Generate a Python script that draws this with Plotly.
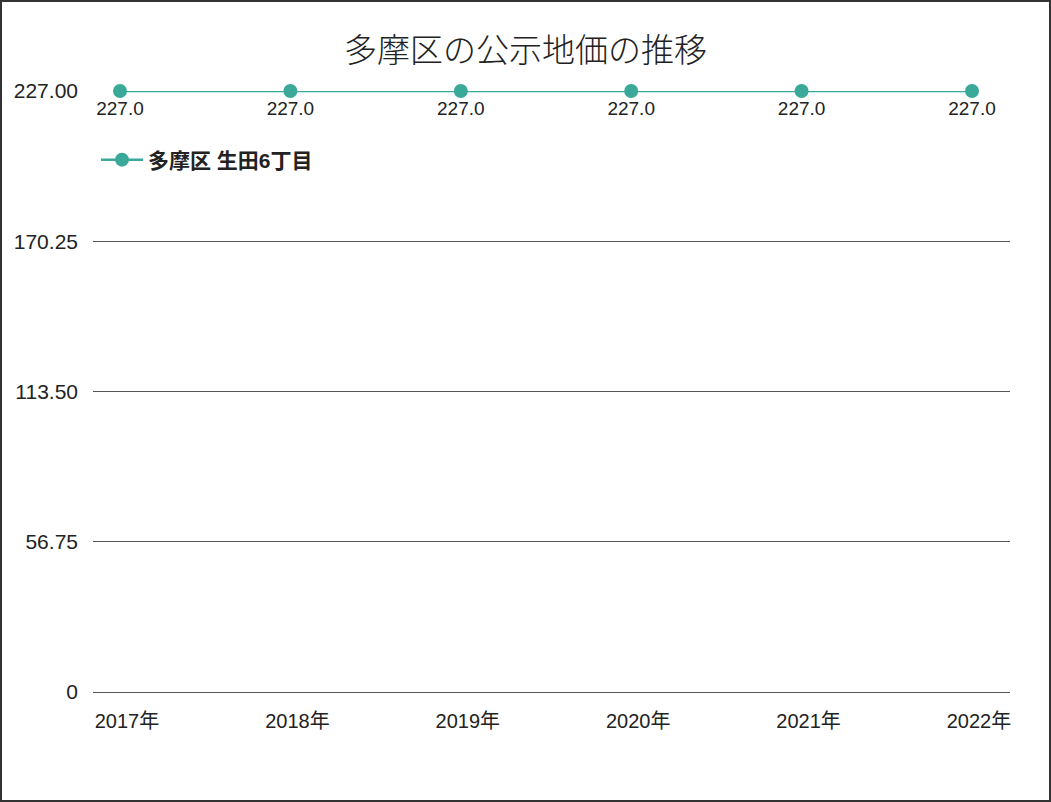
import plotly.graph_objects as go

years = ["2017年", "2018年", "2019年", "2020年", "2021年", "2022年"]
values = [227.0, 227.0, 227.0, 227.0, 227.0, 227.0]
series_name = "多摩区 生田6丁目"
y_tickvals = [0, 56.75, 113.5, 170.25, 227.0]
y_ticktext = ["0", "56.75", "113.50", "170.25", "227.00"]
title_text = "多摩区の公示地価の推移"

FONT = "Liberation Sans, Noto Sans CJK JP"
W, H = 1051, 802
ML, MR, MT, MB = 93, 41, 91, 110
PW, PH = W - ML - MR, H - MT - MB

fig = go.Figure()
fig.add_trace(go.Scatter(
    x=list(range(len(years))), y=values, name=series_name,
    mode="lines+markers+text",
    line=dict(color="#3aa99a", width=2.5),
    marker=dict(color="#3aa99a", size=14),
    text=[f"{v:.1f}" for v in values],
    textposition="bottom center",
    textfont=dict(family=FONT, size=19, color="#222"),
    cliponaxis=False,
))

def px_x(p):
    return (p - ML) / PW

def px_y(p):
    return (H - MB - p) / PH

fig.add_shape(type="rect", xref="paper", yref="paper",
              x0=px_x(1), x1=px_x(W - 1), y0=px_y(H - 1), y1=px_y(1),
              line=dict(color="#333", width=2), layer="above")

fig.update_layout(
    width=W, height=H,
    margin=dict(l=ML, r=MR, t=MT, b=MB),
    paper_bgcolor="white", plot_bgcolor="white",
    font=dict(family=FONT, color="#222"),
    title=dict(text=title_text, x=0.5, xanchor="center", y=1 - 50 / H, yanchor="middle",
               font=dict(family="Noto Sans CJK JP", size=33, color="#222", weight=300)),
    showlegend=True,
    legend=dict(x=px_x(96), y=px_y(160), yanchor="middle", xanchor="left", itemwidth=42,
                bgcolor="rgba(0,0,0,0)", font=dict(family=FONT, size=21, color="#222", weight="bold")),
    xaxis=dict(range=[-27 / 170.4, 5 + 38 / 170.4], tickvals=list(range(len(years))), ticktext=years,
               showgrid=False, zeroline=False, showline=False,
               tickfont=dict(family=FONT, size=20, color="#222"), ticklabelstandoff=15,
               ticklabelshift=7),
    yaxis=dict(range=[0, 227.0], tickvals=y_tickvals, ticktext=y_ticktext,
               showgrid=True, gridcolor="#555", gridwidth=1,
               zeroline=True, zerolinecolor="#555", zerolinewidth=1, showline=False,
               tickfont=dict(family=FONT, size=21, color="#222"), ticklabelstandoff=14),
)

fig.write_html("out.html")
